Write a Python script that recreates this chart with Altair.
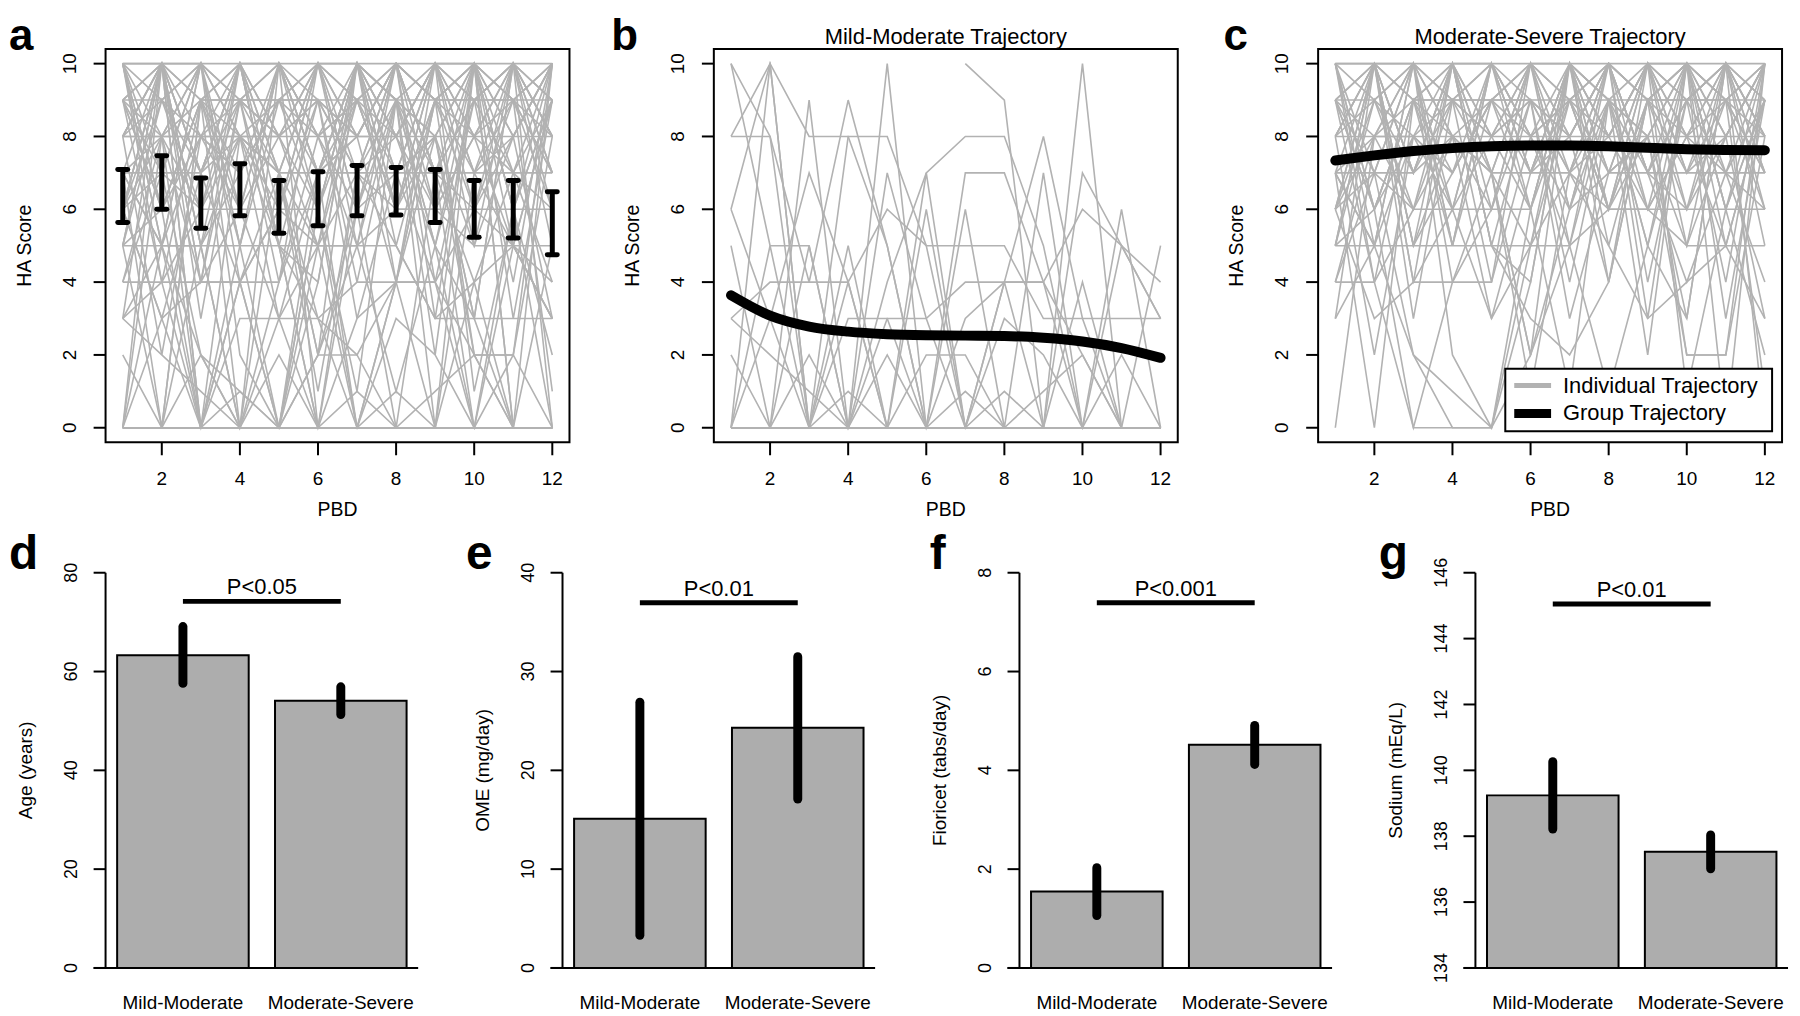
import altair as alt
import pandas as pd

FONT = "Liberation Sans"
LINE_GRAY = "#b2b2b2"
BAR_GRAY = "#adadad"

# ---------------- data ----------------
pbd = list(range(1, 13))

mild_traj = [
    [10, 5, 5, 0, 2, 0, 0, 0, 0, 0, 0, 0],
    [8, 8, 4, 4, 0, 0, 7, 7, 4, 2, 0, 0],
    [8, 10, 0, 8, 8, 5, 0, 1, 0, 0, 0, 0],
    [6, 10, 0, 0, 4, 7, 8, 8, 5, 0, 0, 0],
    [6, 3, 7, 4, 6, 5, 5, 5, 3, 3, 3, 3],
    [5, 0, 9, 0, 0, 6, 0, 4, 8, 3, 0, 0],
    [3, 2, 1, 0, 0, 0, 0, 0, 0, 0, 0, 0],
    [3, 4, 4, 9, 5, 0, 3, 4, 4, 0, 5, 3],
    [2, 0, 0, 0, 0, 0, 0, 0, 0, 0, 0, 0],
    [0, 10, 8, 8, 5, 0, 0, 0, 0, 10, 0, 0],
    [0, 0, 0, 5, 0, 0, 6, 0, 7, 0, 0, 0],
    [0, 0, 0, 1, 0, 0, 1, 0, 0, 0, 0, 0],
    [0, 0, 0, 0, 0, 0, 0, 0, 0, 0, 0, 0],
    [0, 3, 0, 0, 7, 3, 0, 3, 2, 0, 6, 0],
    [0, 0, 5, 0, 3, 3, 4, 4, 4, 6, 5, 4],
    [10, 8, 0, 4, 0, 7, 0, 4, 0, 7, 5, 3],
    [0, 0, 2, 0, 0, 2, 2, 0, 1, 2, 0, 0],
    [None, None, None, None, None, None, 10, 9, 0, 0, 0, 0],
    [0, 0, 0, 0, 10, 0, 0, 0, 0, 0, 0, 0],
    [0, 0, 0, 3, 3, 0, 0, 0, 0, 4, 0, 5],
    [0, 0, 0, 0, 0, 0, 0, 0, 0, 0, 2, 0],
    [0, 5, 0, 0, 0, 0, 0, 0, 0, 0, 0, 0],
]

severe_traj = [
    [10, 10, 10, 10, 10, 10, 10, 10, 10, 10, 10, 10],
    [9, 10, 9, 9, 9, 9, 9, 9, 9, 9, 9, 9],
    [8, 8, 8, 8, 8, 8, 8, 8, 8, 8, 8, 8],
    [7, 7, 7, 8, 7, 7, 7, 6, 6, 6, 6, 6],
    [5, 5, 5, 5, 5, 5, 5, 6, 6, 5, 5, 5],
    [4, 4, 6, 6, 6, 6, 10, 7, 7, 7, 7, 7],
    [10, 7, 10, 5, 9, 10, 7, 10, 9, 10, 8, 10],
    [6, 10, 5, 10, 7, 5, 10, 9, 5, 9, 10, 7],
    [9, 6, 9, 7, 10, 6, 9, 6, 10, 7, 9, 8],
    [3, 10, 7, 9, 4, 10, 8, 10, 7, 10, 5, 9],
    [0, 8, 10, 4, 4, 8, 5, 9, 8, 3, 10, 8],
    [8, 2, 8, 10, 8, 9, 3, 7, 10, 8, 7, 6],
    [5, 9, 6, 8, 3, 7, 10, 4, 9, 6, 9, 10],
    [7, 0, 9, 6, 10, 8, 6, 10, 3, 10, 6, 9],
    [9, 10, 4, 4, 6, 10, 9, 6, 8, 5, 10, 7],
    [10, 5, 10, 8, 7, 1, 7, 8, 10, 9, 4, 10],
    [6, 9, 7, 10, 5, 9, 4, 9, 6, 8, 9, 1],
    [4, 7, 2, 0, 0, 5, 9, 10, 7, 4, 7, 10],
    [8, 10, 5, 7, 9, 6, 10, 5, 9, 10, 3, 9],
    [10, 6, 8, 9, 8, 10, 6, 7, 8, 2, 2, 8],
    [7, 8, 10, 5, 10, 7, 8, 10, 7, 9, 10, 6],
    [5, 10, 3, 9, 7, 2, 10, 8, 10, 6, 8, 3],
    [9, 4, 9, 10, 6, 9, 7, 9, 5, 10, 6, 10],
    [6, 7, 6, 9, 10, 8, 9, 6, 9, 7, 10, 8],
    [8, 9, 10, 6, 8, 10, 5, 10, 6, 8, 5, 9],
    [10, 10, 7, 10, 5, 4, 10, 8, 10, 9, 7, 4],
    [7, 5, 8, 7, 9, 10, 8, 4, 9, 10, 9, 7],
    [9, 8, 6, 10, 10, 7, 9, 10, 7, 6, 10, 8],
    [5, 6, 9, 8, 6, 10, 6, 9, 10, 5, 8, 10],
    [8, 10, 10, 9, 8, 6, 10, 7, 8, 10, 6, 9],
    [10, 9, 8, 6, 10, 9, 7, 10, 9, 8, 10, 5],
    [6, 10, 5, 8, 7, 10, 9, 8, 6, 10, 9, 7],
    [9, 7, 10, 9, 9, 8, 10, 6, 10, 7, 8, 10],
    [7, 10, 9, 10, 8, 9, 8, 10, 9, 10, 7, 9],
    [4, 8, 8, 7, 9, 7, 10, 9, 7, 9, 9, 6],
    [10, 6, 9, 5, 10, 8, 9, 7, 10, 8, 10, 8],
    [8, 10, 7, 10, 7, 10, 10, 9, 8, 10, 9, 10],
    [9, 9, 10, 8, 9, 9, 8, 10, 9, 9, 10, 9],
    [5, 10, 4, 6, 3, 5, 7, 5, 3, 4, 5, 3],
    [6, 8, 9, 9, 10, 7, 10, 8, 10, 10, 8, 10],
    [7, 5, 2, 1, 0, 2, 6, 10, 4, 9, 10, 9],
    [9, 6, 0, 0, 0, 4, 10, 6, 9, 2, 2, 10],
    [3, 5, 10, 2, 0, 6, 1, 9, 2, 10, 0, 10],
    [6, 3, 4, 10, 5, 3, 2, 4, 10, 1, 6, 2],
    [10, 4, 0, 4, 7, 2, 5, 1, 5, 3, 10, 0],
]

all_ci_lo = [5.64, 6.00, 5.48, 5.82, 5.34, 5.55, 5.82, 5.84, 5.64, 5.23, 5.21, 4.75]
all_ci_hi = [7.09, 7.47, 6.86, 7.25, 6.79, 7.03, 7.20, 7.15, 7.09, 6.79, 6.79, 6.48]

mild_group = [3.64, 3.08, 2.78, 2.64, 2.57, 2.54, 2.53, 2.52, 2.47, 2.37, 2.19, 1.92]
severe_group = [7.34, 7.48, 7.60, 7.68, 7.73, 7.75, 7.75, 7.73, 7.69, 7.65, 7.63, 7.62]

x_ticks = [2, 4, 6, 8, 10, 12]
y_ticks = [0, 2, 4, 6, 8, 10]
top_titles = ["", "Mild-Moderate Trajectory", "Moderate-Severe Trajectory"]
legend_labels = ["Individual Trajectory", "Group Trajectory"]

groups = ["Mild-Moderate", "Moderate-Severe"]
age_mean = [63.3, 54.1]
age_lo = [57.6, 51.3]
age_hi = [69.1, 56.9]
ome_mean = [15.1, 24.3]
ome_lo = [3.3, 17.1]
ome_hi = [26.9, 31.5]
fior_mean = [1.55, 4.52]
fior_lo = [1.06, 4.12]
fior_hi = [2.03, 4.91]
na_mean = [139.24, 137.53]
na_lo = [138.22, 137.01]
na_hi = [140.26, 138.04]

age_ticks = [0, 20, 40, 60, 80]
ome_ticks = [0, 10, 20, 30, 40]
fior_ticks = [0, 2, 4, 6, 8]
na_ticks = [134, 136, 138, 140, 142, 144, 146]

p_labels = ["P<0.05", "P<0.01", "P<0.001", "P<0.01"]
sig_levels = [74.2, 36.95, 7.39, 145.05]
bar_ylabels = ["Age (years)", "OME (mg/day)", "Fioricet (tabs/day)", "Sodium (mEq/L)"]


# ---------------- layout (screen pixels) ----------------
def S(v):
    return v - 8  # page margin


ONE = pd.DataFrame({"k": [0]})
TOP_LEFT = [106, 717, 1324]
TOP_W = 466
TOP_TOP, TOP_BOT = 47, 442
BOT_AXIS = [106, 565, 1024, 1482]
BOT_W = 314
BOT_TOP, BOT_BOT = 573, 970


def long_form(trajs, prefix):
    rows = []
    for i, t in enumerate(trajs):
        for p, v in zip(pbd, t):
            if v is not None:
                rows.append({"pid": f"{prefix}{i}", "pbd": p, "score": v})
    return pd.DataFrame(rows)


def text_at(text, x, y, size, **kw):
    return alt.Chart(ONE).mark_text(text=text, font=FONT, fontSize=size, **kw).encode(
        x=alt.value(S(x)), y=alt.value(S(y))
    )


def top_panel(idx, traj_df, letter, letter_x, ci=None, group=None, legend=False):
    left = TOP_LEFT[idx]
    xs = alt.Scale(domain=[0.56, 12.44], range=[S(left), S(left + TOP_W)], nice=False, zero=False)
    ys = alt.Scale(domain=[-0.4, 10.4], range=[S(TOP_BOT), S(TOP_TOP)], nice=False, zero=False)

    def X(f):
        return alt.X(f, type="quantitative", scale=xs, axis=None)

    def Y(f):
        return alt.Y(f, type="quantitative", scale=ys, axis=None)

    L = []
    L.append(
        alt.Chart(traj_df).mark_line(color=LINE_GRAY, strokeWidth=1.6).encode(
            x=X("pbd"), y=Y("score"), detail="pid:N"
        )
    )
    if ci is not None:
        L.append(
            alt.Chart(ci).mark_rule(color="black", strokeWidth=5).encode(
                x=X("pbd"), y=Y("lo"), y2=alt.Y2("hi")
            )
        )
        for f in ("lo", "hi"):
            L.append(
                alt.Chart(ci).mark_rule(color="black", strokeWidth=5, strokeCap="round",
                                        xOffset=-5, x2Offset=5).encode(
                    x=X("pbd"), x2=alt.X2("pbd"), y=Y(f)
                )
            )
    if group is not None:
        L.append(
            alt.Chart(group).mark_line(color="black", strokeWidth=10, strokeCap="round",
                                       strokeJoin="round", interpolate="monotone").encode(
                x=X("pbd"), y=Y("score")
            )
        )
    if legend:
        L.append(
            alt.Chart(ONE).mark_rect(fill="white", stroke="black", strokeWidth=2).encode(
                x=alt.value(S(1512)), x2=alt.value(S(1780)), y=alt.value(S(368)), y2=alt.value(S(431))
            )
        )
        L.append(
            alt.Chart(ONE).mark_rule(color=LINE_GRAY, strokeWidth=5).encode(
                x=alt.value(S(1521)), x2=alt.value(S(1558)), y=alt.value(S(385))
            )
        )
        L.append(
            alt.Chart(ONE).mark_rule(color="black", strokeWidth=9).encode(
                x=alt.value(S(1521)), x2=alt.value(S(1558)), y=alt.value(S(413))
            )
        )
        L.append(text_at(legend_labels[0], 1570, 385, 22, align="left", baseline="middle"))
        L.append(text_at(legend_labels[1], 1570, 413, 22, align="left", baseline="middle"))
    # frame
    L.append(
        alt.Chart(ONE).mark_rect(fill="transparent", stroke="black", strokeWidth=2).encode(
            x=alt.value(S(left)), x2=alt.value(S(left + TOP_W)),
            y=alt.value(S(TOP_TOP)), y2=alt.value(S(TOP_BOT))
        )
    )
    xt = pd.DataFrame({"v": x_ticks, "lbl": [str(t) for t in x_ticks]})
    yt = pd.DataFrame({"v": y_ticks, "lbl": [str(t) for t in y_ticks]})
    L.append(
        alt.Chart(xt).mark_rule(color="black", strokeWidth=2).encode(
            x=X("v"), y=alt.value(S(TOP_BOT)), y2=alt.value(S(TOP_BOT + 13))
        )
    )
    L.append(
        alt.Chart(xt).mark_text(font=FONT, fontSize=19, baseline="middle").encode(
            x=X("v"), y=alt.value(S(479)), text="lbl:N"
        )
    )
    L.append(
        alt.Chart(yt).mark_rule(color="black", strokeWidth=2).encode(
            y=Y("v"), x=alt.value(S(left - 12)), x2=alt.value(S(left))
        )
    )
    L.append(
        alt.Chart(yt).mark_text(font=FONT, fontSize=19, angle=270, baseline="middle", align="center").encode(
            y=Y("v"), x=alt.value(S(left - 36)), text="lbl:N"
        )
    )
    L.append(text_at("PBD", left + TOP_W / 2, 510, 19.5, baseline="middle", align="center"))
    L.append(text_at("HA Score", left - 81, (TOP_TOP + TOP_BOT) / 2, 19.5, angle=270,
                     baseline="middle", align="center"))
    if top_titles[idx]:
        L.append(text_at(top_titles[idx], left + TOP_W / 2, 42, 22, align="center", baseline="alphabetic"))
    L.append(text_at(letter, letter_x, 48, 44, fontWeight="bold", align="left", baseline="alphabetic"))
    return L


def bar_panel(j, means, lo, hi, ticks, letter, letter_x):
    A = BOT_AXIS[j]
    xs = alt.Scale(domain=[0.112, 2.488], range=[S(A), S(A + BOT_W)], nice=False, zero=False)
    ys = alt.Scale(domain=[ticks[0], ticks[-1]], range=[S(BOT_BOT), S(BOT_TOP)], nice=False, zero=False)

    def X(f):
        return alt.X(f, type="quantitative", scale=xs, axis=None)

    def Y(f):
        return alt.Y(f, type="quantitative", scale=ys, axis=None)

    df = pd.DataFrame({
        "group": groups, "mean": means, "lo": lo, "hi": hi,
        "x0": [0.2 + 1.2 * k for k in range(2)],
        "x1": [1.2 + 1.2 * k for k in range(2)],
        "xc": [0.7 + 1.2 * k for k in range(2)],
        "base": [ticks[0]] * 2,
    })
    tk = pd.DataFrame({"v": ticks, "lbl": [str(t) for t in ticks]})
    ax = pd.DataFrame({"a": [ticks[0]], "b": [ticks[-1]]})
    sig = pd.DataFrame({"x0": [0.7], "x1": [1.9], "xm": [1.3], "s": [sig_levels[j]], "lbl": [p_labels[j]]})

    L = []
    L.append(
        alt.Chart(df).mark_rect(fill=BAR_GRAY, stroke="black", strokeWidth=2).encode(
            x=X("x0"), x2=alt.X2("x1"), y=Y("mean"), y2=alt.Y2("base")
        )
    )
    L.append(
        alt.Chart(df).mark_rule(color="black", strokeWidth=9, strokeCap="round").encode(
            x=X("xc"), y=Y("lo"), y2=alt.Y2("hi")
        )
    )
    L.append(
        alt.Chart(df).mark_text(font=FONT, fontSize=19, baseline="alphabetic").encode(
            x=X("xc"), y=alt.value(S(1011)), text="group:N"
        )
    )
    # axes
    L.append(
        alt.Chart(ax).mark_rule(color="black", strokeWidth=2).encode(
            x=alt.value(S(A)), y=Y("a"), y2=alt.Y2("b")
        )
    )
    L.append(
        alt.Chart(ax).mark_rule(color="black", strokeWidth=2).encode(
            x=alt.value(S(A - 12)), x2=alt.value(S(A + BOT_W)), y=Y("a")
        )
    )
    L.append(
        alt.Chart(tk).mark_rule(color="black", strokeWidth=2).encode(
            y=Y("v"), x=alt.value(S(A - 12)), x2=alt.value(S(A))
        )
    )
    L.append(
        alt.Chart(tk).mark_text(font=FONT, fontSize=18, angle=270, baseline="middle", align="center").encode(
            y=Y("v"), x=alt.value(S(A - 34)), text="lbl:N"
        )
    )
    L.append(text_at(bar_ylabels[j], A - 80, (BOT_TOP + BOT_BOT) / 2, 19, angle=270,
                     baseline="middle", align="center"))
    # significance
    L.append(
        alt.Chart(sig).mark_rule(color="black", strokeWidth=5).encode(
            x=X("x0"), x2=alt.X2("x1"), y=Y("s")
        )
    )
    L.append(
        alt.Chart(sig).mark_text(font=FONT, fontSize=22, baseline="alphabetic", dy=-7).encode(
            x=X("xm"), y=Y("s"), text="lbl:N"
        )
    )
    L.append(text_at(letter, letter_x, 569, 48, fontWeight="bold", align="left", baseline="alphabetic"))
    return L


mild_df = long_form(mild_traj, "m")
severe_df = long_form(severe_traj, "s")
all_df = pd.concat([mild_df, severe_df], ignore_index=True)
ci_df = pd.DataFrame({"pbd": pbd, "lo": all_ci_lo, "hi": all_ci_hi})
mild_g = pd.DataFrame({"pbd": pbd, "score": mild_group})
severe_g = pd.DataFrame({"pbd": pbd, "score": severe_group})

layers = []
layers += top_panel(0, all_df, "a", 9, ci=ci_df)
layers += top_panel(1, mild_df, "b", 614, group=mild_g)
layers += top_panel(2, severe_df, "c", 1229, group=severe_g, legend=True)
layers += bar_panel(0, age_mean, age_lo, age_hi, age_ticks, "d", 9)
layers += bar_panel(1, ome_mean, ome_lo, ome_hi, ome_ticks, "e", 468)
layers += bar_panel(2, fior_mean, fior_lo, fior_hi, fior_ticks, "f", 934)
layers += bar_panel(3, na_mean, na_lo, na_hi, na_ticks, "g", 1385)

chart = (
    alt.layer(*layers)
    .resolve_scale(x="independent", y="independent")
    .properties(width=1792, height=1008, padding=0, autosize=alt.AutoSizeParams(type="none"))
    .configure_view(stroke="transparent")
)

chart.save("out.html", embed_options={"renderer": "svg", "actions": False})
